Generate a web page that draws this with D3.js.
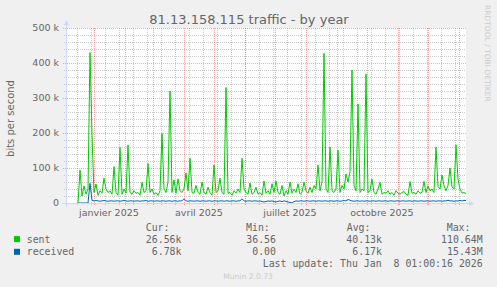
<!DOCTYPE html>
<html>
<head>
<meta charset="utf-8">
<script src="https://cdn.jsdelivr.net/npm/d3@7/dist/d3.min.js"></script>
<style>
  html, body { margin: 0; padding: 0; background: #F0F0F0; }
  svg { display: block; }
</style>
</head>
<body>
<div id="chart"></div>
<script>
// traffic by year, one value every 2 days, first value 12 days after start
var firstDay = 12
var dayStep = 2

// sent, in k bits per second
var sentK = [
  0, 94, 20, 49, 25, 40, 430, 194, 30, 54,
  22, 35, 28, 71, 40, 30, 35, 25, 104, 30,
  22, 159, 25, 40, 28, 166, 30, 25, 35, 28,
  30, 22, 59, 30, 35, 113, 30, 40, 25, 30,
  22, 35, 199, 40, 30, 60, 320, 30, 66, 28,
  69, 35, 30, 40, 86, 35, 128, 30, 28, 50,
  30, 25, 60, 30, 25, 45, 30, 22, 109, 30,
  35, 71, 30, 25, 330, 28, 30, 22, 35, 28,
  40, 30, 128, 40, 30, 25, 57, 25, 30, 45,
  25, 30, 22, 63, 28, 35, 25, 55, 30, 63,
  30, 25, 50, 20, 35, 25, 60, 28, 40, 30,
  55, 25, 30, 60, 35, 28, 45, 30, 50, 40,
  109, 35, 60, 428, 40, 30, 160, 35, 30, 40,
  151, 30, 50, 40, 83, 60, 90, 380, 50, 35,
  283, 30, 40, 35, 369, 30, 35, 68, 30, 25,
  40, 59, 25, 30, 28, 35, 25, 30, 22, 35,
  28, 25, 30, 33, 25, 22, 61, 28, 30, 25,
  35, 28, 30, 62, 30, 49, 35, 40, 30, 160,
  47, 40, 80, 49, 35, 50, 100, 45, 40, 166,
  68, 40, 28, 30, 27
]

// received, in k bits per second
var receivedK = [
  0, 0, 0, 0, 0, 0, 56, 8, 6, 7,
  6, 5, 6, 7, 6, 5, 6, 6, 5, 6,
  6, 5, 6, 7, 6, 5, 6, 6, 5, 6,
  6, 5, 6, 6, 7, 5, 6, 6, 5, 6,
  6, 5, 6, 6, 5, 6, 6, 5, 6, 6,
  5, 6, 6, 12, 6, 5, 6, 6, 5, 6,
  6, 5, 6, 6, 5, 6, 6, 5, 6, 6,
  5, 6, 6, 5, 6, 6, 5, 6, 6, 5,
  6, 6, 12, 6, 5, 6, 6, 5, 6, 6,
  5, 6, 4, 3, 4, 6, 5, 6, 4, 3,
  5, 6, 4, 6, 5, 3, 2, 0, 4, 6,
  5, 6, 6, 5, 6, 6, 5, 6, 6, 5,
  6, 6, 5, 6, 6, 5, 6, 6, 5, 6,
  6, 5, 6, 7, 6, 10, 8, 6, 5, 6,
  6, 5, 6, 5, 6, 6, 5, 6, 6, 5,
  6, 6, 5, 6, 6, 5, 6, 6, 5, 6,
  6, 5, 6, 6, 5, 6, 6, 5, 6, 6,
  5, 6, 6, 5, 6, 6, 5, 6, 6, 5,
  6, 6, 5, 6, 6, 8, 6, 6, 5, 6,
  6, 7, 6, 7, 7
]

var yTicks = [0, 100000, 200000, 300000, 400000, 500000]
var yTickLabels = ["0", "100 k", "200 k", "300 k", "400 k", "500 k"]
var xLabels = ["janvier 2025", "avril 2025", "juillet 2025", "octobre 2025"]
var xLabelMonths = [new Date(Date.UTC(2025, 0, 1)), new Date(Date.UTC(2025, 3, 1)),
                    new Date(Date.UTC(2025, 6, 1)), new Date(Date.UTC(2025, 9, 1))]

var seriesNames = ["sent", "received"]
var seriesColors = ["#00CC00", "#0066B3"]
var curVals = ["26.56k", "6.78k"]
var minVals = ["36.56", "0.00"]
var avgVals = ["40.13k", "6.17k"]
var maxVals = ["110.64M", "15.43M"]

var startDate = new Date(Date.UTC(2024, 11, 4, 1, 0, 16))
var endDate = new Date(Date.UTC(2026, 0, 8, 1, 0, 16))

width = 497
height = 287
left = 66
right = 466
top_ = 28
bottom = 203

fontColor = "#666666"
axisColor = "#CFD6F8"
minorColor = "rgba(160,160,160,0.55)"
majorColor = "rgba(255,60,60,0.45)"

var svg = d3.select("#chart").append("svg")
  .attr("width", width)
  .attr("height", height)

svg.append("rect")
  .attr("width", width)
  .attr("height", height)
  .attr("fill", "#F0F0F0")

var x = d3.scaleUtc().domain([startDate, endDate]).range([left, right])
var y = d3.scaleLinear().domain([0, 500000]).range([bottom, top_])

// canvas
svg.append("rect")
  .attr("x", left)
  .attr("y", top_)
  .attr("width", right - left)
  .attr("height", bottom - top_)
  .attr("fill", "#FFFFFF")

var grid = svg.append("g").attr("shape-rendering", "crispEdges")

// minor grid, every 2 weeks and every 20k
var minorDays = []
for (var d = new Date(Date.UTC(2024, 11, 15)); d < endDate; d = d3.utcDay.offset(d, 14)) {
  minorDays.push(d)
}
grid.selectAll(".vminor").data(minorDays).enter().append("line")
  .attr("x1", function(d) { return Math.round(x(d)) + 0.5 })
  .attr("x2", function(d) { return Math.round(x(d)) + 0.5 })
  .attr("y1", top_)
  .attr("y2", bottom + 2)
  .attr("stroke", minorColor)
  .attr("stroke-dasharray", "1,1")

var minorVals = d3.range(20000, 500001, 20000).filter(function(v) { return v % 100000 != 0 })
grid.selectAll(".hminor").data(minorVals).enter().append("line")
  .attr("x1", left - 2)
  .attr("x2", right)
  .attr("y1", function(v) { return Math.round(y(v)) + 0.5 })
  .attr("y2", function(v) { return Math.round(y(v)) + 0.5 })
  .attr("stroke", minorColor)
  .attr("stroke-dasharray", "1,1")

// major grid, month starts and every 100k
var months = d3.utcMonth.range(startDate, endDate)
grid.selectAll(".vmajor").data(months).enter().append("line")
  .attr("x1", function(d) { return Math.round(x(d)) + 0.5 })
  .attr("x2", function(d) { return Math.round(x(d)) + 0.5 })
  .attr("y1", top_)
  .attr("y2", bottom + 3)
  .attr("stroke", majorColor)
  .attr("stroke-dasharray", "1,1")

grid.selectAll(".hmajor").data(yTicks.slice(1)).enter().append("line")
  .attr("x1", left - 3)
  .attr("x2", right)
  .attr("y1", function(v) { return Math.round(y(v)) + 0.5 })
  .attr("y2", function(v) { return Math.round(y(v)) + 0.5 })
  .attr("stroke", majorColor)
  .attr("stroke-dasharray", "1,1")

// lines
function toPoints(vals) {
  return vals.map(function(v, i) {
    return { date: d3.utcDay.offset(startDate, firstDay + dayStep * i), value: v * 1000 }
  })
}
var line = d3.line()
  .x(function(d) { return x(d.date) })
  .y(function(d) { return y(d.value) })

svg.append("path")
  .datum(toPoints(sentK))
  .attr("fill", "none")
  .attr("stroke", seriesColors[0])
  .attr("stroke-width", 1)
  .attr("d", line)

svg.append("path")
  .datum(toPoints(receivedK))
  .attr("fill", "none")
  .attr("stroke", seriesColors[1])
  .attr("stroke-width", 1)
  .attr("d", line)

// axes
svg.append("line")
  .attr("x1", left - 4).attr("x2", right + 4)
  .attr("y1", bottom + 0.5).attr("y2", bottom + 0.5)
  .attr("stroke", axisColor)
svg.append("path")
  .attr("d", "M" + (right + 3) + "," + (bottom - 2) + "L" + (right + 8) + "," + (bottom + 0.5) + "L" + (right + 3) + "," + (bottom + 3) + "Z")
  .attr("fill", axisColor)
svg.append("line")
  .attr("x1", left + 0.5).attr("x2", left + 0.5)
  .attr("y1", bottom + 4).attr("y2", top_ - 4)
  .attr("stroke", axisColor)
svg.append("path")
  .attr("d", "M" + (left - 2) + "," + (top_ - 3) + "L" + (left + 0.5) + "," + (top_ - 8) + "L" + (left + 3) + "," + (top_ - 3) + "Z")
  .attr("fill", axisColor)

// y tick labels
svg.selectAll(".ylab").data(yTicks).enter().append("text")
  .text(function(d, i) { return yTickLabels[i] })
  .attr("x", 59)
  .attr("y", function(d) { return y(d) + 3.4 })
  .attr("text-anchor", "end")
  .attr("font-family", "DejaVu Sans")
  .attr("font-size", 9.5)
  .attr("fill", fontColor)

// x labels centered mid-month
svg.selectAll(".xlab").data(xLabelMonths).enter().append("text")
  .text(function(d, i) { return xLabels[i] })
  .attr("x", function(d) { return x(d3.utcDay.offset(d, 15)) })
  .attr("y", 215.7)
  .attr("text-anchor", "middle")
  .attr("font-family", "DejaVu Sans")
  .attr("font-size", 9.5)
  .attr("fill", fontColor)

// title and side texts
svg.append("text")
  .text("81.13.158.115 traffic - by year")
  .attr("x", 249)
  .attr("y", 23.5)
  .attr("text-anchor", "middle")
  .attr("font-family", "DejaVu Sans")
  .attr("font-size", 13)
  .attr("fill", fontColor)

svg.append("text")
  .text("bits per second")
  .attr("transform", "translate(14,118.5) rotate(-90)")
  .attr("text-anchor", "middle")
  .attr("font-family", "DejaVu Sans")
  .attr("font-size", 10)
  .attr("fill", fontColor)

svg.append("text")
  .text("RRDTOOL / TOBI OETIKER")
  .attr("transform", "translate(484.5,5) rotate(90)")
  .attr("font-family", "DejaVu Sans")
  .attr("font-size", 7.5)
  .attr("fill", "#cccccc")

// legend
var mono = "DejaVu Sans Mono"
var heads = [["Cur:", 145.7], ["Min:", 246], ["Avg:", 346.7], ["Max:", 446.7]]
heads.forEach(function(h) {
  svg.append("text").text(h[0])
    .attr("x", h[1]).attr("y", 231.3)
    .attr("font-family", mono).attr("font-size", 9.9)
    .attr("fill", fontColor)
})

var cols = [[curVals, 181.5], [minVals, 276], [avgVals, 382], [maxVals, 482.7]]
seriesNames.forEach(function(name, i) {
  var base = 242.6 + i * 12.7
  svg.append("rect")
    .attr("x", 14).attr("y", base - 6.5)
    .attr("width", 6).attr("height", 6)
    .attr("fill", seriesColors[i])
  svg.append("text").text(name)
    .attr("x", 26.7).attr("y", base)
    .attr("font-family", mono).attr("font-size", 9.9)
    .attr("fill", fontColor)
  cols.forEach(function(c) {
    svg.append("text").text(c[0][i])
      .attr("x", c[1]).attr("y", base)
      .attr("text-anchor", "end")
      .attr("font-family", mono).attr("font-size", 9.9)
      .attr("fill", fontColor)
  })
})

svg.append("text")
  .text("Last update: Thu Jan  8 01:00:16 2026")
  .attr("x", 482.7).attr("y", 267.3)
  .attr("text-anchor", "end")
  .attr("xml:space", "preserve")
  .style("white-space", "pre")
  .attr("font-family", mono).attr("font-size", 9.9)
  .attr("fill", fontColor)

svg.append("text")
  .text("Munin 2.0.73")
  .attr("x", 248).attr("y", 278.5)
  .attr("text-anchor", "middle")
  .attr("font-family", "DejaVu Sans")
  .attr("font-size", 7.6)
  .attr("fill", "#cccccc")
</script>
</body>
</html>
